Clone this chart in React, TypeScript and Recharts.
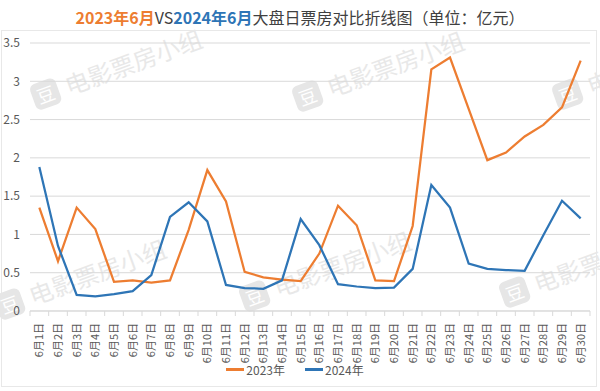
import React from 'react';
import { LineChart, Line, XAxis, YAxis, CartesianGrid, Legend } from 'recharts';

const days = [
  '6月1日', '6月2日', '6月3日', '6月4日', '6月5日', '6月6日', '6月7日', '6月8日', '6月9日', '6月10日',
  '6月11日', '6月12日', '6月13日', '6月14日', '6月15日', '6月16日', '6月17日', '6月18日', '6月19日', '6月20日',
  '6月21日', '6月22日', '6月23日', '6月24日', '6月25日', '6月26日', '6月27日', '6月28日', '6月29日', '6月30日',
];

const y2023 = [1.35, 0.65, 1.35, 1.07, 0.38, 0.4, 0.37, 0.4, 1.06, 1.84, 1.43, 0.51, 0.44, 0.41, 0.39, 0.75, 1.375, 1.12, 0.4, 0.39, 1.11, 3.155, 3.31, 2.64, 1.97, 2.07, 2.28, 2.43, 2.66, 3.27];
const y2024 = [1.88, 0.85, 0.21, 0.19, 0.22, 0.26, 0.47, 1.23, 1.42, 1.17, 0.34, 0.3, 0.29, 0.4, 1.2, 0.86, 0.35, 0.32, 0.3, 0.305, 0.55, 1.645, 1.35, 0.62, 0.55, 0.535, 0.525, 0.99, 1.44, 1.21];

const yTicks = [0, 0.5, 1, 1.5, 2, 2.5, 3, 3.5];
const seriesNames = ['2023年', '2024年'];

const ORANGE = '#ED7D31';
const BLUE = '#2E75B6';
const FONT = '"Noto Sans CJK SC", "Noto Sans", sans-serif';

const data = days.map((d, i) => ({ day: d, a: y2023[i], b: y2024[i] }));

const W = 600;
const H = 391;
const M = { top: 43, right: 10, bottom: 0, left: 0 };
const YW = 30;
const BAND = (W - M.left - M.right - YW) / days.length;

const XTick = (props: any) => {
  const { x, y, payload, index } = props;
  return (
    <g transform={`translate(${x},${y})`}>
      <line x1={BAND / 2} x2={BAND / 2} y1={-8} y2={-3} stroke="#d9d9d9" />
      {index === 0 ? <line x1={-BAND / 2} x2={-BAND / 2} y1={-8} y2={-3} stroke="#d9d9d9" /> : null}
      <text
        transform="rotate(-90)"
        x={-4}
        y={4}
        textAnchor="end"
        fill="#595959"
        fontSize={11}
        fontFamily={FONT}
      >
        {payload.value}
      </text>
    </g>
  );
};

const LegendContent = () => (
  <div style={{ display: 'flex', justifyContent: 'center', gap: 20, fontFamily: FONT, fontSize: 12, color: '#595959' }}>
    {seriesNames.map((n, i) => (
      <div key={n} style={{ display: 'flex', alignItems: 'center' }}>
        <span style={{ display: 'inline-block', width: 18, height: 2.5, background: i === 0 ? ORANGE : BLUE, marginRight: 2 }} />
        <span>{n}</span>
      </div>
    ))}
  </div>
);

const watermarks = [
  { x: 28, y: 85 },
  { x: 290, y: 87 },
  { x: 550, y: 85 },
  { x: -8, y: 295 },
  { x: 237, y: 287 },
  { x: 497, y: 283 },
];

export default function App() {
  return (
    <div style={{ position: 'absolute', left: 0, top: 0, width: W, height: H, background: '#fff', overflow: 'hidden' }}>
      <div
        style={{
          position: 'absolute', left: 1, top: 30, width: 596, height: 357,
          border: '1px solid #e8e8e8', boxSizing: 'border-box',
        }}
      />
      {watermarks.map((w, i) => (
        <div
          key={i}
          style={{
            position: 'absolute', left: w.x, top: w.y, transform: 'rotate(-20deg)', transformOrigin: 'left top',
            display: 'flex', alignItems: 'center', gap: 8, color: '#e8e8e8', fontFamily: FONT, fontSize: 24,
            lineHeight: '28px', pointerEvents: 'none', whiteSpace: 'nowrap',
          }}
        >
          <span
            style={{
              display: 'inline-block', width: 27, height: 27, borderRadius: 6, background: '#e6e6e6',
              color: '#fff', fontSize: 18, lineHeight: '27px', textAlign: 'center',
            }}
          >
            豆
          </span>
          <span>电影票房小组</span>
        </div>
      ))}
      <div
        style={{
          position: 'absolute', left: 0, top: 5, width: W, textAlign: 'center',
          fontFamily: FONT, fontSize: 16, color: '#404040', lineHeight: '24px', background: 'transparent',
        }}
      >
        <span style={{ color: ORANGE, fontWeight: 'bold' }}>2023年6月</span>
        <span>VS</span>
        <span style={{ color: BLUE, fontWeight: 'bold' }}>2024年6月</span>
        <span>大盘日票房对比折线图（单位：亿元）</span>
      </div>
      <div style={{ position: 'absolute', left: 0, top: 0 }}>
        <LineChart width={W} height={H} data={data} margin={M}>
          <CartesianGrid vertical={false} stroke="#d9d9d9" />
          <XAxis
            dataKey="day"
            interval={0}
            height={50}
            padding={{ left: BAND / 2, right: BAND / 2 }}
            tickLine={false}
            axisLine={{ stroke: '#d9d9d9' }}
            tick={<XTick />}
          />
          <YAxis
            domain={[0, 3.5]}
            ticks={yTicks}
            width={YW}
            tickLine={false}
            axisLine={false}
            tickMargin={4}
            tick={{ fill: '#595959', fontSize: 12, fontFamily: FONT }}
          />
          <Legend verticalAlign="bottom" height={30} content={<LegendContent />} />
          <Line type="linear" dataKey="a" name={seriesNames[0]} stroke={ORANGE} strokeWidth={2.25} dot={false} isAnimationActive={false} />
          <Line type="linear" dataKey="b" name={seriesNames[1]} stroke={BLUE} strokeWidth={2.25} dot={false} isAnimationActive={false} />
        </LineChart>
      </div>
    </div>
  );
}
